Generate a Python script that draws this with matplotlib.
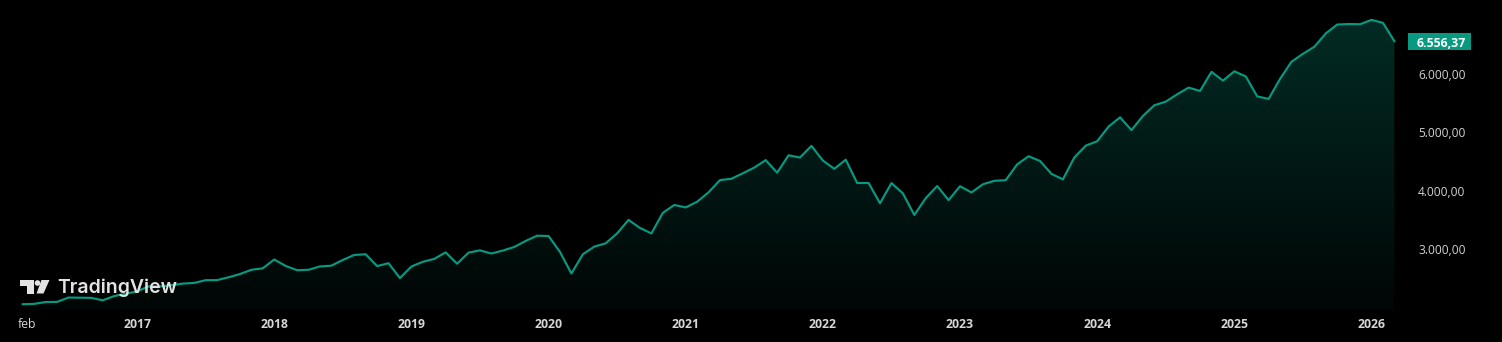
import numpy as np
import matplotlib
matplotlib.use("Agg")
import matplotlib.pyplot as plt
from matplotlib.patches import Rectangle, Polygon, Circle
from matplotlib.transforms import Affine2D
from matplotlib.colors import LinearSegmentedColormap

# ---------------- data (monthly closes, Mar 2016 .. Mar 2026) ----------------
start_year, start_month = 2016, 3
values = [
    2059.74, 2065.30, 2096.95, 2098.86, 2173.60, 2170.95, 2168.27, 2126.15, 2198.81, 2238.83,
    2278.87, 2363.64, 2362.72, 2384.20, 2411.80, 2423.41, 2470.30, 2471.65, 2519.36, 2575.26, 2647.58, 2673.61,
    2823.81, 2713.83, 2640.87, 2648.05, 2705.27, 2718.37, 2816.29, 2901.52, 2913.98, 2711.74, 2760.17, 2506.85,
    2704.10, 2784.49, 2834.40, 2945.83, 2752.06, 2941.76, 2980.38, 2926.46, 2976.74, 3037.56, 3140.98, 3230.78,
    3225.52, 2954.22, 2584.59, 2912.43, 3044.31, 3100.29, 3271.12, 3500.31, 3363.00, 3269.96, 3621.63, 3756.07,
    3714.24, 3811.15, 3972.89, 4181.17, 4204.11, 4297.50, 4395.26, 4522.68, 4307.54, 4605.38, 4567.00, 4766.18,
    4515.55, 4373.94, 4530.41, 4131.93, 4132.15, 3785.38, 4130.29, 3955.00, 3585.62, 3871.98, 4080.11, 3839.50,
    4076.60, 3970.15, 4109.31, 4169.48, 4179.83, 4450.38, 4588.96, 4507.66, 4288.05, 4193.80, 4567.80, 4769.83,
    4845.65, 5096.27, 5254.35, 5035.69, 5277.51, 5460.48, 5522.30, 5648.40, 5762.48, 5705.45, 6032.38, 5881.63,
    6040.53, 5954.50, 5611.85, 5569.06, 5911.69, 6204.95, 6339.39, 6460.26, 6688.46, 6840.20, 6849.09, 6845.50,
    6920.00, 6870.00, 6556.37,
]
year_labels = ["2017", "2018", "2019", "2020", "2021", "2022", "2023", "2024", "2025", "2026"]
first_label = "feb"
y_ticks = [3000, 4000, 5000, 6000]
last_label = "6.556,37"

def fmt(v):
    s = f"{v:,.2f}"
    return s.replace(",", "X").replace(".", ",").replace("X", ".")

# ---------------- figure ----------------
W, H = 1502, 342
fig = plt.figure(figsize=(W / 100, H / 100), dpi=100, facecolor="black")
ax_left, ax_right, ax_top, ax_bottom = 0, 1405, 0, 310
ax = fig.add_axes([ax_left / W, 1 - ax_bottom / H, (ax_right - ax_left) / W, (ax_bottom - ax_top) / H])
ax.set_facecolor("black")
for s in ax.spines.values():
    s.set_visible(False)

x = np.arange(len(values))
y = np.array(values)
line_c = "#089981"

XL = (-1.99, 120.93)
YL = (1960.7, 7259.8)
ax.set_xlim(*XL)
ax.set_ylim(*YL)

# gradient fill under the line
ymin_ax = YL[0]
ytop = y.max()
cmap = LinearSegmentedColormap.from_list(
    "g", [(0.0, (8/255*0.04, 153/255*0.04, 129/255*0.04)), (1.0, (8/255*0.28, 153/255*0.28, 129/255*0.28))])
grad = np.linspace(0, 1, 256).reshape(-1, 1)
im = ax.imshow(grad, cmap=cmap, aspect="auto", origin="lower",
               extent=[x[0], x[-1], ymin_ax, ytop], zorder=1, interpolation="bilinear")
poly = Polygon(np.vstack([np.column_stack([x, y]), [[x[-1], ymin_ax], [x[0], ymin_ax]]]),
               closed=True, facecolor="none", edgecolor="none", transform=ax.transData)
ax.add_patch(poly)
im.set_clip_path(poly)
ax.set_xlim(*XL)
ax.set_ylim(*YL)

ax.plot(x, y, color=line_c, lw=1.55, zorder=3)

# x ticks: January of each year
jan_idx = [(int(lbl) - start_year) * 12 + (1 - start_month) for lbl in year_labels]
ax.set_xticks([0.38] + jan_idx)
ax.set_xticklabels([first_label] + year_labels)
ax.tick_params(axis="x", length=0, pad=6.0)
for i, t in enumerate(ax.get_xticklabels()):
    t.set_fontfamily("Open Sans")
    t.set_fontsize(8.8)
    t.set_fontweight("normal" if i == 0 else "bold")
    t.set_color("#d6d6d6")

# y ticks on the right
ax.yaxis.tick_right()
ax.set_yticks(y_ticks)
ax.set_yticklabels([fmt(v) for v in y_ticks])
ax.tick_params(axis="y", length=0, pad=9.4)
for t in ax.get_yticklabels():
    t.set_fontfamily("Open Sans")
    t.set_fontsize(8.6)
    t.set_color("#d1d1d1")

# last value tag
T = Affine2D().scale(1, -1).translate(0, H).scale(1 / 100) + fig.dpi_scale_trans
y_disp = ax.transData.transform((0, y[-1]))[1]
y_px = H - y_disp
fig.add_artist(Rectangle((1408, y_px - 8.5), 63, 17, transform=T, facecolor=line_c, edgecolor="none"))
fig.text(1441.5, y_px + 0.5, last_label, transform=T, ha="center", va="center_baseline",
         color="white", fontsize=8.8, fontweight="bold", family="Open Sans")

# TradingView watermark
logo_c = "#e3e3e3"
fig.add_artist(Polygon([(20, 280), (33.5, 280), (33.5, 293.5), (27, 293.5), (27, 286), (20, 286)],
                       closed=True, transform=T, facecolor=logo_c, edgecolor="none", zorder=10))
fig.add_artist(Circle((37.5, 283), 2.8, transform=T, facecolor=logo_c, edgecolor="none", zorder=10))
fig.add_artist(Polygon([(41.5, 280), (49.5, 280), (43.5, 293.5), (36.5, 293.5)],
                       closed=True, transform=T, facecolor=logo_c, edgecolor="none", zorder=10))
fig.text(57.5, 293.3, "TradingView", transform=T, ha="left", va="baseline",
         color=logo_c, fontsize=14.0, fontweight="semibold", family="Inter", zorder=10)

fig.savefig("out.png", dpi=100, facecolor="black")
